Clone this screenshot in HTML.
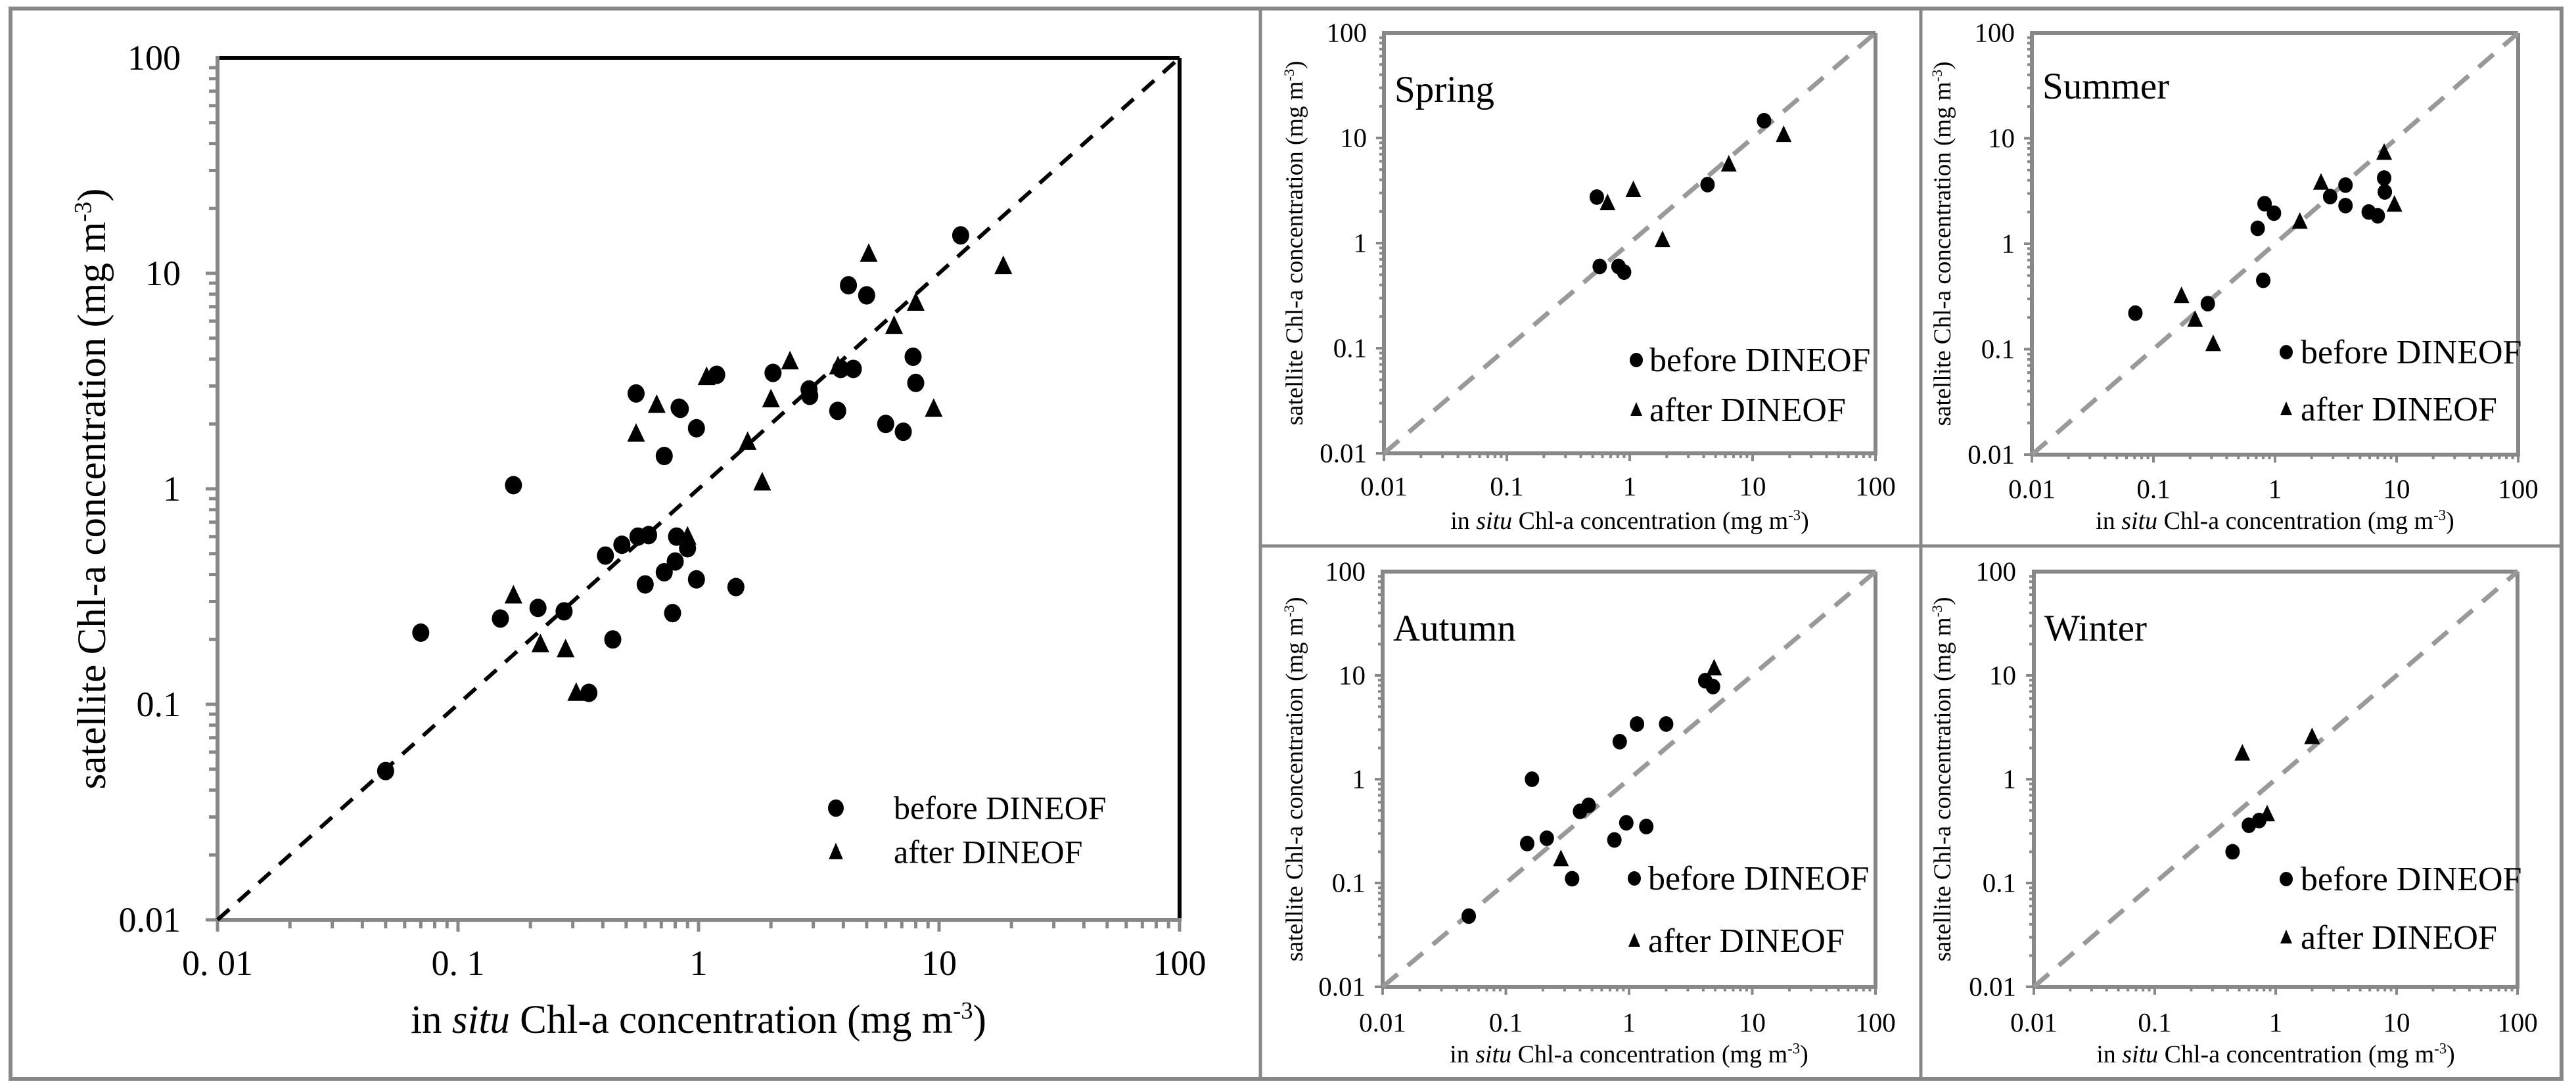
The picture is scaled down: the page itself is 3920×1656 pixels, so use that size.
<!DOCTYPE html>
<html><head><meta charset="utf-8"><style>
html,body{margin:0;padding:0;background:#fff;}
svg{display:block;font-family:"Liberation Serif",serif;}
</style></head><body>
<svg id="fig" width="3920" height="1656" viewBox="0 0 3920 1656" xmlns="http://www.w3.org/2000/svg">
<rect x="16" y="13" width="3882" height="1629" fill="none" stroke="#888" stroke-width="6"/>
<line x1="1918" y1="13" x2="1918" y2="1642" stroke="#888" stroke-width="5"/>
<line x1="2923" y1="13" x2="2923" y2="1642" stroke="#888" stroke-width="5"/>
<line x1="1918" y1="831" x2="3898" y2="831" stroke="#888" stroke-width="5"/>
<g id="layer"></g>
</svg>
<script>
// ---- data (x = in situ, y = satellite) ----
const mainBeforeX=[0.05,0.07,0.17,0.15,0.215,0.276,0.35,0.44,0.41,0.48,0.56,0.62,0.6,0.72,0.78,0.81,0.8,0.9,0.98,1.43,0.55,0.72,0.83,0.84,0.98,1.19,2.04,2.88,2.9,3.79,3.9,4.4,4.2,5.0,6.0,7.1,7.8,8.0,12.3];
const mainBeforeY=[0.049,0.215,1.04,0.25,0.28,0.27,0.113,0.2,0.49,0.55,0.6,0.61,0.36,0.41,0.265,0.6,0.46,0.53,0.38,0.35,2.77,1.42,2.38,2.35,1.91,3.38,3.45,2.89,2.7,2.3,3.6,3.6,8.8,7.9,2.0,1.84,4.1,3.1,15];
const mainAfterX=[0.17,0.22,0.28,0.31,0.55,0.67,0.9,1.08,1.6,1.84,2.0,2.4,3.8,5.1,6.5,8.0,9.5,18.5];
const mainAfterY=[0.32,0.19,0.18,0.113,1.8,2.45,0.6,3.3,1.65,1.07,2.6,3.9,3.7,12.3,5.7,7.3,2.35,10.8];
const springBeforeX=[0.54,0.57,0.81,0.9,4.3,12.4];
const springBeforeY=[2.74,0.6,0.6,0.53,3.6,14.6];
const springAfterX=[0.66,1.07,1.85,6.4,17.9];
const springAfterY=[2.4,3.2,1.07,5.6,10.7];
const summerBeforeX=[0.071,0.28,0.72,0.82,0.98,0.8,2.84,3.8,3.8,5.9,7.0,7.9,8.0];
const summerBeforeY=[0.22,0.27,1.4,2.4,1.95,0.45,2.8,3.6,2.3,2.0,1.84,4.2,3.1];
const summerAfterX=[0.17,0.22,0.31,1.6,2.39,7.9,9.6];
const summerAfterY=[0.32,0.19,0.112,1.62,3.8,7.3,2.35];
const autumnBeforeX=[0.05,0.149,0.163,0.215,0.345,0.4,0.47,0.76,0.84,0.95,1.16,1.38,2.0,4.15,4.8];
const autumnBeforeY=[0.048,0.24,1.0,0.27,0.11,0.49,0.56,0.26,2.3,0.38,3.4,0.35,3.4,8.9,7.8];
const autumnAfterX=[0.28,4.9];
const autumnAfterY=[0.17,11.7];
const winterBeforeX=[0.44,0.6,0.73];
const winterBeforeY=[0.2,0.36,0.4];
const winterAfterX=[0.53,0.85,2.0];
const winterAfterY=[1.77,0.46,2.55];
const tickVals=[0.01,0.1,1,10,100];
const xTickLabelsMain=["0. 01","0. 1","1","10","100"];
const tickLabels=["0.01","0.1","1","10","100"];

const NS="http://www.w3.org/2000/svg";
const layer=document.getElementById('layer');
function mk(tag,attrs,parent){const e=document.createElementNS(NS,tag);for(const k in attrs)e.setAttribute(k,attrs[k]);(parent||layer).appendChild(e);return e;}

function panel(o){
  const g=mk('g',{});
  
  
  const sx=v=>o.x0+(Math.log10(v)+2)/4*(o.x1-o.x0);
  const sy=v=>o.y1-(Math.log10(v)+2)/4*(o.y1-o.y0);
  const top=mk('line',{x1:o.x0,y1:o.y0,x2:o.x1,y2:o.y0,stroke:o.boxColor,'stroke-width':o.bw},g);
  
  
  const right=mk('line',{x1:o.x1,y1:o.y0,x2:o.x1,y2:o.y1,stroke:o.boxColor,'stroke-width':o.bw},g);
  
  
  const ya=mk('line',{x1:o.x0,y1:o.y0-o.bw/2,x2:o.x0,y2:o.y1,stroke:'#888','stroke-width':o.bw},g);
  
  
  const xa=mk('line',{x1:o.x0,y1:o.y1,x2:o.x1+o.bw/2,y2:o.y1,stroke:'#888','stroke-width':o.bw},g);
  
  
  for(let d=-2;d<2;d++){for(let m=1;m<=9;m++){
    const v=m*Math.pow(10,d);const L=m===1?o.tMaj:o.tMin;
    const tx=mk('line',{x1:sx(v),y1:o.y1,x2:sx(v),y2:o.y1+L,stroke:'#888','stroke-width':o.tw},g);
    
    
    const ty=mk('line',{x1:o.x0,y1:sy(v),x2:o.x0-L,y2:sy(v),stroke:'#888','stroke-width':o.tw},g);
    
    
  }}
  const lt=mk('line',{x1:o.x1,y1:o.y1,x2:o.x1,y2:o.y1+o.tMaj,stroke:'#888','stroke-width':o.tw},g);
  
  
  tickVals.forEach((v,i)=>{
    const t=mk('text',{x:sx(v),y:o.xlY,'font-size':o.tf,'text-anchor':'middle'},g);t.textContent=o.xLabels[i];
    
    
    const u=mk('text',{x:o.ylX,y:sy(v)+o.tf*0.33,'font-size':o.tf,'text-anchor':'end'},g);u.textContent=tickLabels[i];
    
    
  });
  const dl=mk('line',{x1:sx(0.01),y1:sy(0.01),x2:sx(100),y2:sy(100),stroke:o.dashColor,'stroke-width':o.dw,'stroke-dasharray':o.dash},g);
  
  
  o.bx.forEach((v,i)=>{
    const c=mk('ellipse',{cx:sx(v),cy:sy(o.by[i]),rx:o.r,ry:o.r*1.08,fill:'#000'},g);
    
    
  });
  o.ax.forEach((v,i)=>{
    const x=sx(v),y=sy(o.ay[i]),s=o.tri;
    const p=mk('polygon',{points:`${x},${y-s*0.6} ${x-s*0.5},${y+s*0.45} ${x+s*0.5},${y+s*0.45}`,fill:'#000'},g);
    
    
  });
  const lc=mk('ellipse',{cx:o.lgX,cy:o.lgY1,rx:o.lr,ry:o.lr*1.1,fill:'#000'},g);
  
  
  const s=o.lr*2;
  const lp=mk('polygon',{points:`${o.lgX},${o.lgY2-s*0.6} ${o.lgX-s*0.45},${o.lgY2+s*0.45} ${o.lgX+s*0.45},${o.lgY2+s*0.45}`,fill:'#000'},g);
  
  
  const l1=mk('text',{x:o.lgTX,y:o.lgY1+o.lf*0.33,'font-size':o.lf},g);l1.textContent='before DINEOF';
  
  
  const l2=mk('text',{x:o.lgTX,y:o.lgY2+o.lf*0.33,'font-size':o.lf},g);l2.textContent='after DINEOF';
  
  
  const xt=mk('text',{x:(o.x0+o.x1)/2,y:o.xtY,'font-size':o.af,'text-anchor':'middle'},g);
  xt.innerHTML='in <tspan font-style="italic">situ</tspan> Chl-a concentration (mg m<tspan dy="-'+(o.af*0.35)+'" font-size="'+(o.af*0.6)+'">-3</tspan><tspan dy="'+(o.af*0.35)+'">)</tspan>';
  
  
  const cy=(o.y0+o.y1)/2;
  const yt=mk('text',{x:o.ytX,y:cy,'font-size':o.yf,'text-anchor':'middle',transform:`rotate(-90 ${o.ytX} ${cy})`},g);
  yt.innerHTML='satellite Chl-a concentration (mg m<tspan dy="-'+(o.yf*0.35)+'" font-size="'+(o.yf*0.6)+'">-3</tspan><tspan dy="'+(o.yf*0.35)+'">)</tspan>';
  
  
  if(o.title){
    const t=mk('text',{x:o.x0+16,y:o.titleY,'font-size':57},g);t.textContent=o.title;
    
    
  }
}

panel({name:'main',x0:331,x1:1795,y0:88,y1:1400,boxColor:'#000',bw:6,tMaj:18,tMin:13,tw:5,tf:54,
  xLabels:xTickLabelsMain,xlY:1484,ylX:275,dashColor:'#000',dw:6,dash:'24 18',
  bx:mainBeforeX,by:mainBeforeY,ax:mainAfterX,ay:mainAfterY,r:13,tri:27,
  lgX:1272,lgY1:1230,lgY2:1297,lr:12,lgTX:1360,lf:50,xtY:1572,af:61,ytX:160,yf:61});
const sub={boxColor:'#888',bw:6,tMaj:12,tMin:7,tw:4,tf:41,xLabels:tickLabels,dashColor:'#999',dw:7,dash:'30 20',r:11,tri:24,lr:10,lf:52,af:38,yf:37};
panel(Object.assign({},sub,{name:'spring',title:'Spring',titleY:155,x0:2106,x1:2854,y0:50,y1:690,xlY:754,ylX:2080,xtY:805,ytX:1982,
  bx:springBeforeX,by:springBeforeY,ax:springAfterX,ay:springAfterY,lgX:2490,lgY1:548,lgY2:624,lgTX:2510}));
panel(Object.assign({},sub,{name:'summer',title:'Summer',titleY:150,x0:3092,x1:3832,y0:50,y1:692,xlY:758,ylX:3066,xtY:805,ytX:2968,
  bx:summerBeforeX,by:summerBeforeY,ax:summerAfterX,ay:summerAfterY,lgX:3479,lgY1:536,lgY2:623,lgTX:3501}));
panel(Object.assign({},sub,{name:'autumn',title:'Autumn',titleY:975,x0:2104,x1:2854,y0:870,y1:1502,xlY:1570,ylX:2078,xtY:1617,ytX:1982,
  bx:autumnBeforeX,by:autumnBeforeY,ax:autumnAfterX,ay:autumnAfterY,lgX:2487,lgY1:1337,lgY2:1432,lgTX:2508}));
panel(Object.assign({},sub,{name:'winter',title:'Winter',titleY:975,x0:3095,x1:3831,y0:870,y1:1502,xlY:1570,ylX:3068,xtY:1617,ytX:2968,
  bx:winterBeforeX,by:winterBeforeY,ax:winterAfterX,ay:winterAfterY,lgX:3479,lgY1:1338,lgY2:1427,lgTX:3501}));
</script>
</body></html>
